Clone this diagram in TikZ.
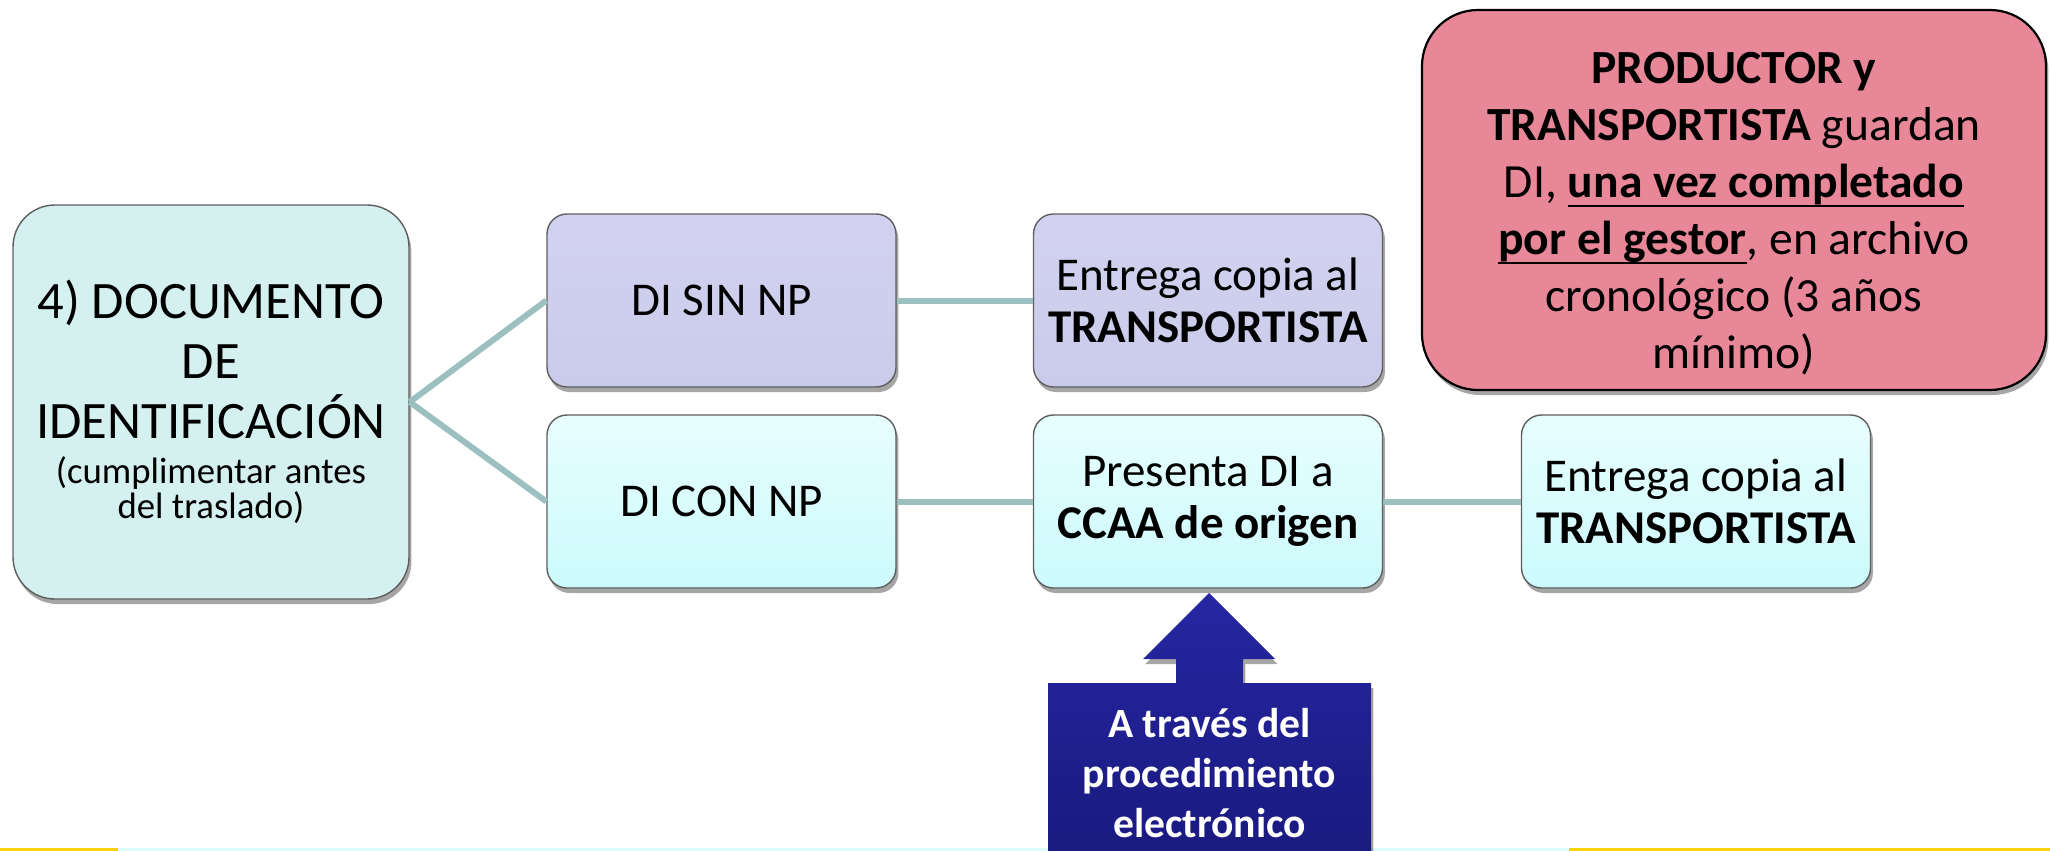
\documentclass[tikz,border=0pt]{standalone}
\usepackage{fontspec}
\setmainfont{Carlito}
\newsavebox\ulsave
\newcommand\myul[1]{\sbox\ulsave{#1}\rlap{\rule[-4.8pt]{\wd\ulsave}{1.4pt}}\usebox\ulsave}
\newcommand\smallfnt{\fontsize{18.4}{17.5}\selectfont}
\usetikzlibrary{shadows}
\definecolor{mainfill}{HTML}{D4F1EF}
\definecolor{lavtop}{HTML}{D2D2F0}
\definecolor{lavbot}{HTML}{CACAEA}
\definecolor{cyantop}{HTML}{E8FEFE}
\definecolor{cyanbot}{HTML}{CCFAFC}
\definecolor{pinkfill}{HTML}{E88797}
\definecolor{bordergray}{HTML}{5E5E5E}
\definecolor{linkcol}{HTML}{9CBFC0}
\definecolor{arrowtop}{HTML}{2626A2}
\definecolor{arrowbot}{HTML}{1A1A80}
\definecolor{stripey}{HTML}{F8D20E}
\definecolor{stripec}{HTML}{DDFBFB}
\begin{document}
\begin{tikzpicture}[x=0.5pt,y=-0.5pt,
  shad/.style={drop shadow={shadow xshift=1.2pt, shadow yshift=-2.5pt, opacity=0.35, fill=black}},
  basebox/.style={draw=bordergray, line width=0.7pt, align=center, inner sep=0pt, shad},
  smallbox/.style={basebox, rounded corners=10pt, minimum width=174.5pt, minimum height=86.5pt,
    font=\fontsize{23.5}{26}\selectfont},
  lavbox/.style={smallbox, top color=lavtop, bottom color=lavbot},
  cybox/.style={smallbox, top color=cyantop, bottom color=cyanbot},
  link/.style={draw=linkcol, line width=3pt}]
\useasboundingbox (0,0) rectangle (2050,851);
% bottom stripes
\fill[stripey] (0,848) rectangle (118,851);
\fill[stripec] (118,848) rectangle (1569,851);
\fill[stripey] (1569,848) rectangle (2050,851);

\node[basebox, rounded corners=21pt, fill=mainfill, minimum width=198pt, minimum height=197pt,
  font=\fontsize{26.3}{30}\selectfont] (main) at (211,402)
  {4) DOCUMENTO\\DE\\IDENTIFICACIÓN\\[-7.5pt]%
   \smallfnt (cumplimentar antes\\[-12.5pt]\smallfnt del traslado)};

\node[lavbox] (sin) at (721.5,300.5) {DI SIN NP};
\node[cybox] (con) at (721.5,501.5) {DI CON NP};
\node[lavbox] (ent1) at (1208,300.5) {Entrega copia al\\\textbf{TRANSPORTISTA}};
\node[cybox] (pres) at (1208,501.5) {Presenta DI a\\\textbf{CCAA de origen}};
\node[cybox] (ent2) at (1696,501.5) {Entrega copia al\\\textbf{TRANSPORTISTA}};

\node[basebox, draw=black, line width=1.1pt, rounded corners=28pt, fill=pinkfill,
  minimum width=312pt, minimum height=190pt] (keep) at (1734,200) {};
\node[align=center, inner sep=0pt, font=\fontsize{23.8}{28.5}\selectfont] (keeptext) at (keep.center) [yshift=-7pt]
  {\textbf{PRODUCTOR y}\\\textbf{TRANSPORTISTA} guardan\\DI, \myul{\textbf{una vez completado}}\\
   \myul{\textbf{por el gestor}}, en archivo\\cronológico (3 años\\mínimo)};

\draw[link] (main.east) -- (sin.west);
\draw[link] (main.east) -- (con.west);
\draw[link] (sin.east) -- (ent1.west);
\draw[link] (con.east) -- (pres.west);
\draw[link] (pres.east) -- (ent2.west);

% block arrow
\path[top color=arrowtop, bottom color=arrowbot, shad]
  (1048,851) -- (1048,683) -- (1176,683) -- (1176,659) -- (1143,659) -- (1209,593)
  -- (1275,659) -- (1243,659) -- (1243,683) -- (1371,683) -- (1371,851) -- cycle;
\node[align=center, text=white, inner sep=0pt, font=\bfseries\fontsize{20.8}{25}\selectfont] (via) at (1209.5,773)
  {A través del\\procedimiento\\electrónico};
\end{tikzpicture}
\end{document}
